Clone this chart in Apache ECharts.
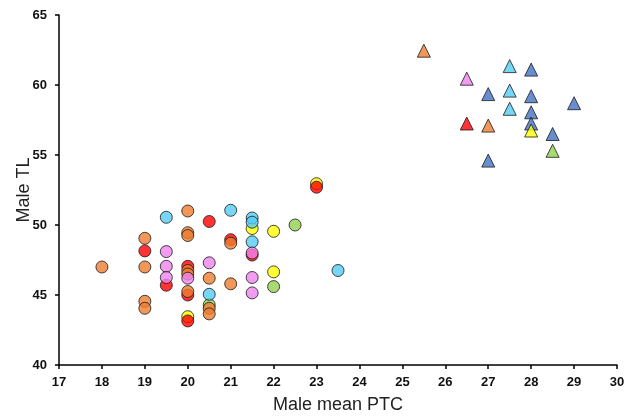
<!DOCTYPE html>
<html>
<head>
<meta charset="utf-8">
<script src="https://cdn.jsdelivr.net/npm/echarts@6/dist/echarts.min.js"></script>
<style>
  html, body { margin: 0; padding: 0; background: #fff; }
  #chart { width: 625px; height: 418px; }
</style>
</head>
<body>
<div id="chart"></div>
<script>
// circles (lower cluster), grouped by colour
const yellowCircles = [[20, 43.45], [21.5, 49.75], [22, 49.55], [22, 46.65], [23, 52.95]];
const greenCircles = [[20.5, 44.3], [22, 45.6], [22.5, 50]];
const redCircles = [[19, 48.15], [19.5, 45.7], [20, 47.05], [20, 45], [20, 43.15], [20.5, 50.25], [21, 48.95], [21.5, 47.85], [23, 52.7]];
const orangeCircles = [[18, 47], [19, 49.05], [19, 47], [19, 44.55], [19, 44.05], [20, 51], [20, 49.45], [20, 49.25], [20, 46.75], [20, 46.5], [20, 45.25], [20.5, 46.2], [20.5, 44.05], [20.5, 43.65], [21, 48.7], [21, 45.8]];
const cyanCircles = [[19.5, 50.55], [20.5, 45.05], [21, 51.05], [21.5, 50.5], [21.5, 50.2], [21.5, 48.8], [23.5, 46.75]];
const pinkCircles = [[19.5, 48.1], [19.5, 47.05], [19.5, 46.25], [20, 46.2], [20.5, 47.3], [21.5, 48.0], [21.5, 46.25], [21.5, 45.15]];

// triangles (upper cluster)
const blueTriangles = [[27, 59.35], [27, 54.6], [28, 61.1], [28, 59.2], [28, 58.05], [28, 57.25], [28.5, 56.5], [29, 58.7]];
const cyanTriangles = [[27.5, 61.35], [27.5, 59.6], [27.5, 58.3]];
const orangeTriangles = [[25.5, 62.45], [27, 57.1]];
const pinkTriangles = [[26.5, 60.45]];
const redTriangles = [[26.5, 57.25]];
const yellowTriangles = [[28, 56.75]];
const greenTriangles = [[28.5, 55.3]];

const xTicks = [17, 30, 1];
const yTicks = [40, 65, 5];

const COLORS = {
  yellow: '#ffff00',
  green: '#92d050',
  red: '#ff0000',
  orange: '#ed7d31',
  cyan: '#55ccf2',
  pink: '#ee82ee',
  blue: '#4472c4'
};

const mk = (name, data, color, symbol) => ({
  name,
  type: 'scatter',
  data,
  symbol,
  symbolSize: symbol === 'circle' ? 12 : 13,
  itemStyle: { color, borderColor: '#1a1a1a', borderWidth: 1 },
  emphasis: { disabled: true }
});

const chart = echarts.init(document.getElementById('chart'), null, { renderer: 'canvas' });

const axisCommon = {
  axisLine: { lineStyle: { color: '#000', width: 1.5 } },
  axisTick: { inside: false, length: 4, lineStyle: { color: '#000', width: 1.5 } },
  axisLabel: { color: '#111', fontFamily: 'Liberation Sans, Arial, sans-serif', fontWeight: 'bold', fontSize: 13 },
  splitLine: { show: false },
  nameLocation: 'middle',
  nameMoveOverlap: false,
  nameTextStyle: { color: '#222', fontFamily: 'Liberation Sans, Arial, sans-serif', fontSize: 18 }
};

chart.setOption({
  backgroundColor: '#fff',
  animation: false,
  grid: { left: 59, right: 8, top: 15, bottom: 53, containLabel: false, outerBoundsMode: 'none' },
  xAxis: Object.assign({}, axisCommon, {
    type: 'value',
    min: xTicks[0], max: xTicks[1], interval: xTicks[2],
    name: 'Male mean PTC',
    nameGap: 31,
    axisLabel: Object.assign({}, axisCommon.axisLabel, { margin: 11 })
  }),
  yAxis: Object.assign({}, axisCommon, {
    type: 'value',
    min: yTicks[0], max: yTicks[1], interval: yTicks[2],
    name: 'Male TL',
    nameGap: 26,
    axisLabel: Object.assign({}, axisCommon.axisLabel, { margin: 12 })
  }),
  series: [
    mk('yellow', yellowCircles, COLORS.yellow, 'circle'),
    mk('green', greenCircles, COLORS.green, 'circle'),
    mk('red', redCircles, COLORS.red, 'circle'),
    mk('orange', orangeCircles, COLORS.orange, 'circle'),
    mk('cyan', cyanCircles, COLORS.cyan, 'circle'),
    mk('pink', pinkCircles, COLORS.pink, 'circle'),
    mk('blueT', blueTriangles, COLORS.blue, 'triangle'),
    mk('cyanT', cyanTriangles, COLORS.cyan, 'triangle'),
    mk('orangeT', orangeTriangles, COLORS.orange, 'triangle'),
    mk('pinkT', pinkTriangles, COLORS.pink, 'triangle'),
    mk('redT', redTriangles, COLORS.red, 'triangle'),
    mk('yellowT', yellowTriangles, COLORS.yellow, 'triangle'),
    mk('greenT', greenTriangles, COLORS.green, 'triangle')
  ]
});
</script>
</body>
</html>
